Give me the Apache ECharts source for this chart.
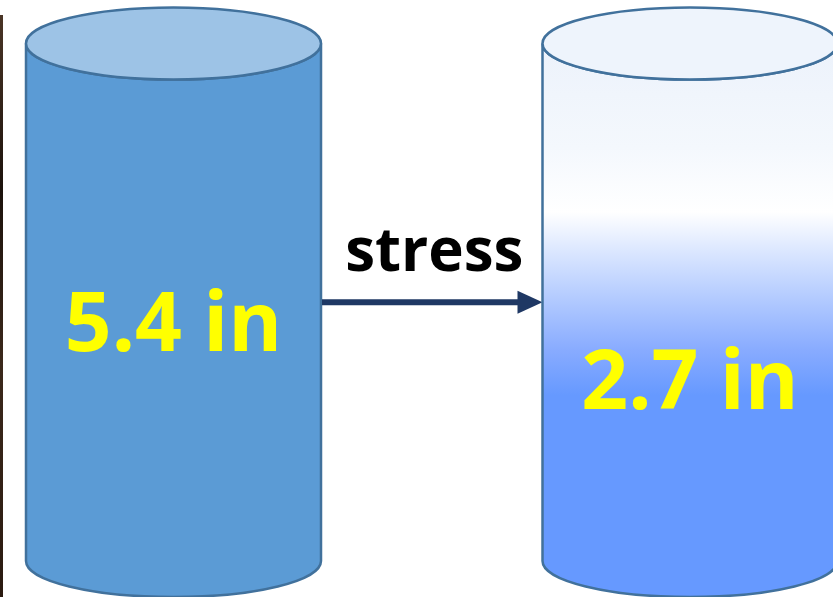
<!DOCTYPE html>
<html>
<head>
<meta charset="utf-8">
<script src="https://cdn.jsdelivr.net/npm/echarts@6/dist/echarts.min.js"></script>
<style>
  html, body { margin: 0; padding: 0; background: #ffffff; }
  #chart { width: 833px; height: 597px; }
</style>
</head>
<body>
<div id="chart"></div>
<script>
// Depth before and after the change, one cylinder per stage
const stages = ['Before', 'After'];
const depths = [5.4, 2.7];
const unit = 'in';
const transitionLabel = 'stress';

// Appearance of each cylinder
const OUTLINE = '#41719c';
const bodyFills = [
  '#5b9bd5',
  {
    type: 'linear', x: 0, y: 0, x2: 0, y2: 1,
    colorStops: [
      { offset: 0.00, color: '#ecf2fb' },
      { offset: 0.19, color: '#f4f8fd' },
      { offset: 0.305, color: '#ffffff' },
      { offset: 0.372, color: '#dde8ff' },
      { offset: 0.463, color: '#b2caff' },
      { offset: 0.554, color: '#88abff' },
      { offset: 0.635, color: '#6699ff' },
      { offset: 1.00, color: '#6699ff' }
    ]
  }
];
const capFills = ['#9dc3e6', '#eef4fc'];
const labelAt = [0.55, 0.662];   // label centre, as a share of the cylinder height from the top
const RX = 147.5;                // half width of a cylinder, px
const RY = 36;                   // half height of the elliptical ends, px
const VALUE_FONT = 'bold 82px "Open Sans"';
const ARROW_COLOR = '#1f3864';

function ellipsePath(cx, cy, rx, ry) {
  return 'M' + (cx - rx) + ',' + cy +
    ' A' + rx + ',' + ry + ' 0 1 0 ' + (cx + rx) + ',' + cy +
    ' A' + rx + ',' + ry + ' 0 1 0 ' + (cx - rx) + ',' + cy + ' Z';
}

function bodyPath(cx, yTop, yBot, rx, ry) {
  const x0 = cx - rx, x1 = cx + rx;
  return 'M' + x0 + ',' + yTop +
    ' L' + x0 + ',' + yBot +
    ' A' + rx + ',' + ry + ' 0 0 0 ' + x1 + ',' + yBot +
    ' L' + x1 + ',' + yTop +
    ' A' + rx + ',' + ry + ' 0 0 1 ' + x0 + ',' + yTop + ' Z';
}

function renderCylinder(params, api) {
  const i = params.dataIndex;
  const depth = api.value(1);
  const base = api.coord([api.value(0), 0]);
  const top = api.coord([api.value(0), 1]);
  const cx = base[0], yBot = base[1], yTop = top[1];
  const children = [];

  children.push({
    type: 'path',
    shape: { pathData: bodyPath(cx, yTop, yBot, RX, RY) },
    style: { fill: bodyFills[i], stroke: OUTLINE, lineWidth: 2.5 }
  });
  children.push({
    type: 'path',
    shape: { pathData: ellipsePath(cx, yTop, RX, RY) },
    style: { fill: capFills[i], stroke: OUTLINE, lineWidth: 2.5 }
  });
  children.push({
    type: 'text',
    style: {
      text: depth.toFixed(1) + ' ' + unit,
      x: cx,
      y: yTop + (yBot - yTop) * labelAt[i],
      fill: '#ffff00',
      font: VALUE_FONT,
      align: 'center',
      verticalAlign: 'middle'
    }
  });

  // Arrow to the next cylinder
  if (i < depths.length - 1) {
    const next = api.coord([i + 1, 0]);
    const xs = cx + RX + 1;
    const xe = next[0] - RX;
    const ya = api.coord([i, 0.5])[1];
    const head = 25;
    children.push({
      type: 'line',
      shape: { x1: xs, y1: ya, x2: xe - head + 2, y2: ya },
      style: { stroke: ARROW_COLOR, lineWidth: 6 }
    });
    children.push({
      type: 'polygon',
      shape: { points: [[xe - head, ya - 11.5], [xe, ya], [xe - head, ya + 11.5]] },
      style: { fill: ARROW_COLOR }
    });
    children.push({
      type: 'text',
      style: {
        text: transitionLabel,
        x: (xs + xe) / 2 + 2,
        y: ya - 48,
        fill: '#000000',
        font: 'bold 60px "Open Sans"',
        align: 'center',
        verticalAlign: 'middle'
      }
    });
  }
  return { type: 'group', children: children };
}

const chart = echarts.init(document.getElementById('chart'), null, { renderer: 'canvas' });
chart.setOption({
  animation: false,
  backgroundColor: '#ffffff',
  grid: { left: 173.5, right: 143, top: 43.5, bottom: 36 },
  xAxis: { type: 'value', min: 0, max: stages.length - 1, show: false },
  yAxis: { type: 'value', min: 0, max: 1, show: false },
  graphic: [{
    type: 'rect',
    shape: { x: 0, y: 15, width: 3, height: 582 },
    style: {
      fill: {
        type: 'linear', x: 0, y: 0, x2: 0, y2: 1,
        colorStops: [
          { offset: 0, color: '#4a3526' },
          { offset: 0.3, color: '#1c120c' },
          { offset: 0.6, color: '#3b281b' },
          { offset: 1, color: '#2a1a10' }
        ]
      }
    },
    z: 0
  }],
  series: [{
    type: 'custom',
    name: 'depth',
    renderItem: renderCylinder,
    data: depths.map(function (d, i) { return [i, d, stages[i]]; }),
    encode: { x: 0, y: 1 },
    clip: false,
    silent: true
  }]
});
</script>
</body>
</html>
